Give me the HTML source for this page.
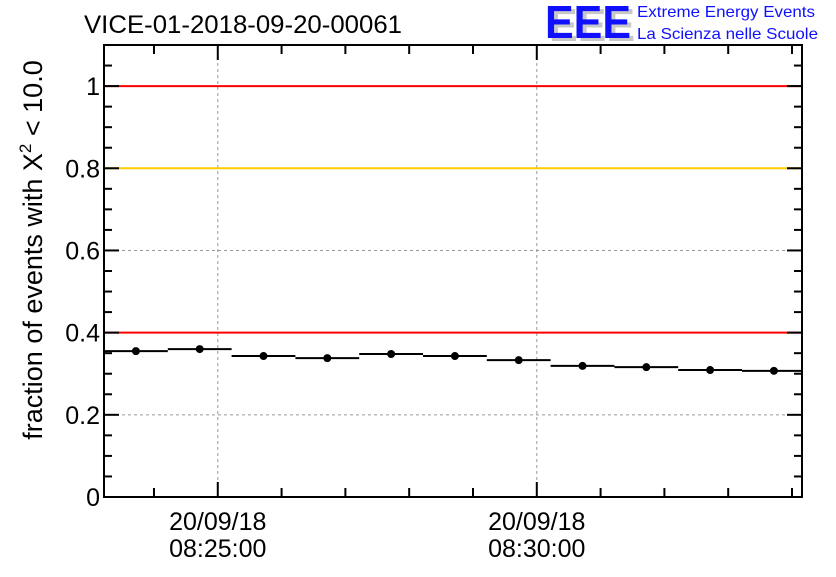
<!DOCTYPE html>
<html><head><meta charset="utf-8"><style>
body{margin:0;background:#fff;width:836px;height:572px;overflow:hidden;font-family:"Liberation Sans",sans-serif}
</style></head><body>
<svg id="chart" width="836" height="572" xmlns="http://www.w3.org/2000/svg">
<text x="84" y="33" font-size="25" fill="#000" textLength="318" lengthAdjust="spacingAndGlyphs">VICE-01-2018-09-20-00061</text>
<g>
<text x="549" y="41" font-size="46" font-weight="bold" fill="#c8c8c8" textLength="86" lengthAdjust="spacingAndGlyphs">EEE</text>
<text x="545" y="38" font-size="46" font-weight="bold" fill="#1010ff" textLength="86" lengthAdjust="spacingAndGlyphs">EEE</text>
<text x="637" y="17" font-size="16" fill="#1010ff" textLength="178" lengthAdjust="spacingAndGlyphs">Extreme Energy Events</text>
<text x="637" y="39" font-size="16" fill="#1010ff" textLength="181" lengthAdjust="spacingAndGlyphs">La Scienza nelle Scuole</text>
</g>
<text transform="translate(42,250) rotate(-90)" text-anchor="middle" font-size="27" fill="#000">fraction of events with Χ<tspan dy="-11" font-size="17">2</tspan><tspan dy="11"> &lt; 10.0</tspan></text>
<g id="plot"></g>
</svg>
<script>
const binStartsMin=[0,1,2,3,4,5,6,7,8,9,10];
const fractions=[0.355,0.360,0.343,0.338,0.348,0.343,0.333,0.319,0.316,0.309,0.307];
const yTickLabels=["0","0.2","0.4","0.6","0.8","1"];
const yTickValues=[0,0.2,0.4,0.6,0.8,1];
const xTickMinutes=[1.7833,6.7833];
const xTickDate=["20/09/18","20/09/18"];
const xTickTime=["08:25:00","08:30:00"];
const refLines=[{v:1,c:"#ff0000"},{v:0.8,c:"#ffcc00"},{v:0.4,c:"#ff0000"}];

const L=104,R=802,T=45,B=497,xMin=0,xMax=10.94,yMin=0,yMax=1.1;
const X=m=>L+(m-xMin)/(xMax-xMin)*(R-L);
const Y=v=>B-(v-yMin)/(yMax-yMin)*(B-T);
const NS="http://www.w3.org/2000/svg",g=document.getElementById("plot");
function mk(t,a){const e=document.createElementNS(NS,t);for(const k in a)e.setAttribute(k,a[k]);g.appendChild(e);return e;}
yTickValues.forEach(v=>{if(v>0){const e=mk("line",{x1:L,x2:R,y1:Y(v),y2:Y(v),stroke:"#999","stroke-dasharray":"3,3","stroke-width":1});

}});
xTickMinutes.forEach(m=>{const e=mk("line",{x1:X(m),x2:X(m),y1:T,y2:B,stroke:"#999","stroke-dasharray":"3,3","stroke-width":1});

});
refLines.forEach(r=>{const e=mk("line",{x1:L,x2:R,y1:Y(r.v),y2:Y(r.v),stroke:r.c,"stroke-width":2});

});
fractions.forEach((f,i)=>{const x0=X(binStartsMin[i]),x1=Math.min(X(binStartsMin[i]+1),R);
const s=mk("line",{x1:x0,x2:x1,y1:Y(f),y2:Y(f),stroke:"#000","stroke-width":2});


const c=mk("circle",{cx:X(binStartsMin[i]+0.5),cy:Y(f),r:4,fill:"#000"});

});
const fr=mk("rect",{x:L,y:T,width:R-L,height:B-T,fill:"none",stroke:"#000","stroke-width":2});


for(let k=0;k<=22;k++){const v=k*0.05,maj=k%4===0,len=maj?15:8;
const a=mk("line",{x1:L,x2:L+len,y1:Y(v),y2:Y(v),stroke:"#000","stroke-width":2});


const b=mk("line",{x1:R-len,x2:R,y1:Y(v),y2:Y(v),stroke:"#000","stroke-width":2});

}
yTickValues.forEach((v,i)=>{const t=mk("text",{x:L-4,y:Y(v)+9,"text-anchor":"end","font-size":25,fill:"#000"});t.textContent=yTickLabels[i];

});
for(let m=xTickMinutes[0]-1;m<=xMax;m+=1){if(m<xMin)continue;const maj=xTickMinutes.some(q=>Math.abs(q-m)<1e-3),len=maj?15:9;
const a=mk("line",{x1:X(m),x2:X(m),y1:B,y2:B-len,stroke:"#000","stroke-width":2});


const b=mk("line",{x1:X(m),x2:X(m),y1:T,y2:T+len,stroke:"#000","stroke-width":2});

}
xTickMinutes.forEach((m,i)=>{const t=mk("text",{x:X(m),y:530,"text-anchor":"middle","font-size":25,fill:"#000"});t.textContent=xTickDate[i];


const u=mk("text",{x:X(m),y:557,"text-anchor":"middle","font-size":25,fill:"#000"});u.textContent=xTickTime[i];

});
</script>
</body></html>
